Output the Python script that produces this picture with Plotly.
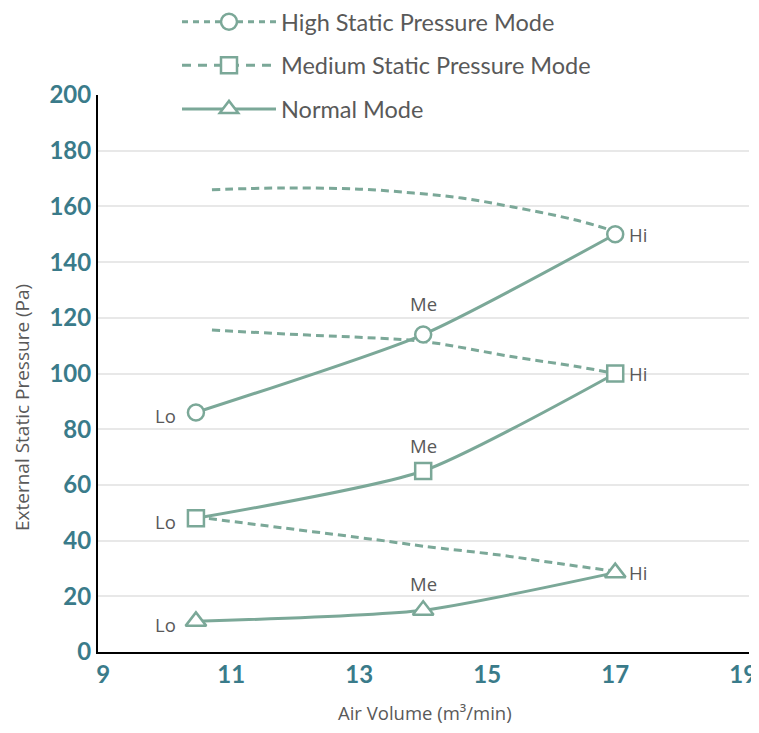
import plotly.graph_objects as go

# ---- data ----
points = ["Lo", "Me", "Hi"]
air_volume = [10.45, 14.0, 17.0]
high_mode = [86, 114, 150]
medium_mode = [48, 65, 100]
normal_mode = [11, 15, 28.5]

# resistance (dashed) curves
curve_top_x = [10.7, 11.8, 13.0, 13.85, 14.6, 15.4, 16.4, 17.0]
curve_top_y = [166, 166.6, 166.2, 164.8, 163, 159.8, 155, 151]
curve_mid_x = [10.7, 12.2, 13.0, 14.0, 15.4, 16.4, 17.0]
curve_mid_y = [115.6, 113.8, 113, 111.5, 106, 102.5, 100]
curve_low_x = [10.45, 12.0, 13.3, 14.0, 15.2, 16.2, 17.0]
curve_low_y = [48.5, 44, 40.2, 38, 34.8, 31.5, 29]

y_ticks = [0, 20, 40, 60, 80, 100, 120, 140, 160, 180, 200]
x_ticks = [9, 11, 13, 15, 17, 19]

legend_names = ["High Static Pressure Mode", "Medium Static Pressure Mode", "Normal Mode"]
x_title = "Air Volume (m³/min)"
y_title = "External Static Pressure (Pa)"

LINE = "#7BA898"
TEAL = "#3A7B8A"
GRAY = "#595959"
FONT = "Lato"
TFONT = "Open Sans"

fig = go.Figure()

dash_pat = "8px,5px"
for cx, cy in [(curve_top_x, curve_top_y), (curve_mid_x, curve_mid_y), (curve_low_x, curve_low_y)]:
    fig.add_trace(go.Scatter(x=cx, y=cy, mode="lines", showlegend=False, hoverinfo="skip",
                             line=dict(color=LINE, width=3, dash=dash_pat, shape="spline", smoothing=1.0)))

symbols = ["circle", "square", "triangle-up"]
series = [high_mode, medium_mode, normal_mode]
for ys, sym in zip(series, symbols):
    fig.add_trace(go.Scatter(x=air_volume, y=ys, mode="lines+markers", showlegend=False,
                             line=dict(color=LINE, width=3, shape="spline", smoothing=0.6),
                             marker=dict(symbol=sym, size=16 if sym != "triangle-up" else 18,
                                         color="white", line=dict(color=LINE, width=2.5))))

# legend-only entries
leg_dash = ["6px,5px", "9px,7px", None]
for name, sym, d in zip(legend_names, symbols, leg_dash):
    fig.add_trace(go.Scatter(x=[None], y=[None], mode="lines+markers", name=name, legendgroup=name,
                             line=dict(color=LINE, width=3, dash=d),
                             marker=dict(symbol=sym, size=17 if sym != "triangle-up" else 19, color="white",
                                         line=dict(color=LINE, width=2.5))))

# point labels
me_lift = [31, 25, 27]
for ys, lift in zip(series, me_lift):
    shifts = {"Lo": dict(xshift=-30, yshift=-3), "Me": dict(xshift=0, yshift=lift), "Hi": dict(xshift=23, yshift=0)}
    for lab, xv, yv in zip(points, air_volume, ys):
        fig.add_annotation(x=xv, y=yv, text=lab, showarrow=False,
                           font=dict(family=TFONT, size=18.5, color=GRAY), **shifts[lab])

W, H = 751, 717
L, R, T, B = 90, 10, 87, 73
PH = H - T - B
PW = W - L - R

# axis titles (placed as text relative to the plot area)
fig.add_annotation(xref="paper", yref="paper", x=(14 - L) / PW, y=1 - (400 - T) / PH,
                   text=y_title, textangle=-90, showarrow=False, xanchor="center", yanchor="middle",
                   font=dict(family=TFONT, size=19, color=GRAY))
fig.add_annotation(xref="paper", yref="paper", x=(417 - L) / PW, y=-(704 - (H - B)) / PH,
                   text=x_title, showarrow=False, xanchor="center", yanchor="middle",
                   font=dict(family=TFONT, size=18.5, color=GRAY))

fig.update_layout(
    width=W, height=H,
    margin=dict(l=L, r=R, t=T, b=B, autoexpand=False),
    plot_bgcolor="white", paper_bgcolor="white",
    font=dict(family=FONT, color=GRAY),
    legend=dict(x=(169 - L) / PW, xref="paper", y=1 + (T + 8) / PH, yref="paper",
                xanchor="left", yanchor="top",
                bgcolor="rgba(0,0,0,0)", font=dict(family=FONT, size=23.5, color=GRAY),
                tracegroupgap=10, itemwidth=94),
    xaxis=dict(range=[8.92, 19.09], tickvals=x_ticks, showgrid=False, zeroline=False,
               showline=True, linecolor="black", linewidth=2, tickangle=0,
               ticklabeloverflow="allow",
               tickfont=dict(family=FONT, size=24, color=TEAL, weight="bold")),
    yaxis=dict(range=[0, 200], tickvals=y_ticks, showgrid=True, gridcolor="#E8E8E8", gridwidth=2,
               zeroline=False, showline=True, linecolor="black", linewidth=2,
               ticklabeloverflow="allow",
               tickfont=dict(family=FONT, size=24, color=TEAL, weight="bold")),
)

fig.write_html("out.html")
